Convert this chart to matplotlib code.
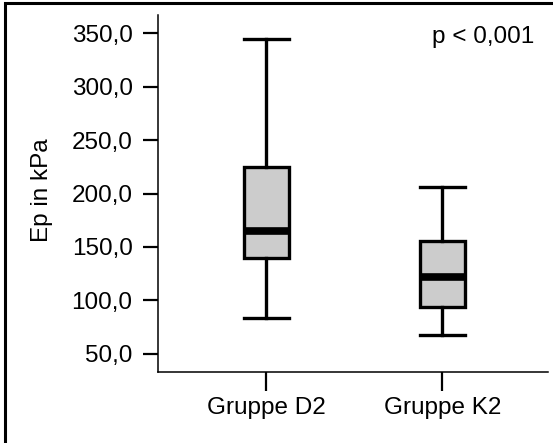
import matplotlib
matplotlib.use('Agg')
import matplotlib.pyplot as plt
from matplotlib.patches import Rectangle

plt.rcParams['font.family'] = ['Liberation Sans', 'DejaVu Sans']

groups = ['Gruppe D2', 'Gruppe K2']
whislo = [84, 68]
q1 = [140, 93.5]
med = [165, 121.5]
q3 = [224.5, 156]
whishi = [344, 206]
yticks = [50, 100, 150, 200, 250, 300, 350]
p_text = 'p < 0,001'

W, H = 553, 443
fig = plt.figure(figsize=(W / 100, H / 100), dpi=100)
ax = fig.add_axes([158 / W, 1 - 372 / H, (548 - 158) / W, (372 - 15) / H])

stats = []
for i in range(len(groups)):
    stats.append(dict(label=groups[i], whislo=whislo[i], q1=q1[i], med=med[i],
                      q3=q3[i], whishi=whishi[i], fliers=[]))

ax.bxp(stats, positions=[1, 2], widths=0.255, patch_artist=True,
       boxprops=dict(facecolor='#cccccc', edgecolor='black', linewidth=2.4),
       medianprops=dict(color='black', linewidth=5.5, solid_capstyle='butt'),
       whiskerprops=dict(color='black', linewidth=2.4),
       capprops=dict(color='black', linewidth=2.4),
       capwidths=0.255)

ax.set_xlim(0.385, 2.6)
ax.set_ylim(33.1, 366.9)
ax.set_yticks(yticks)
ax.set_yticklabels([('%.1f' % v).replace('.', ',') for v in yticks])
ax.set_xticks([1, 2])
ax.set_xticklabels(groups)

for s in ['top', 'right']:
    ax.spines[s].set_visible(False)
for s in ['left', 'bottom']:
    ax.spines[s].set_linewidth(1.1)

ax.tick_params(axis='y', direction='out', length=10.8, width=1.6, pad=7.5, labelsize=17.5)
ax.tick_params(axis='x', direction='out', length=13.7, width=1.6, pad=4, labelsize=17.5)

ax.set_ylabel('Ep in kPa', fontsize=17.5)
ax.yaxis.set_label_coords(-0.268, 0.51)

ax.text(0.964, 0.938, p_text, transform=ax.transAxes, ha='right', va='center', fontsize=17.5)

# frame around the figure (only left and top visible in the source)
fig.patches.append(Rectangle((4.5 / W, -0.1), 1.2, 1 - 3.5 / H + 0.1, transform=fig.transFigure,
                             fill=False, edgecolor='black', linewidth=2.2))

fig.savefig('out.png', dpi=100)
